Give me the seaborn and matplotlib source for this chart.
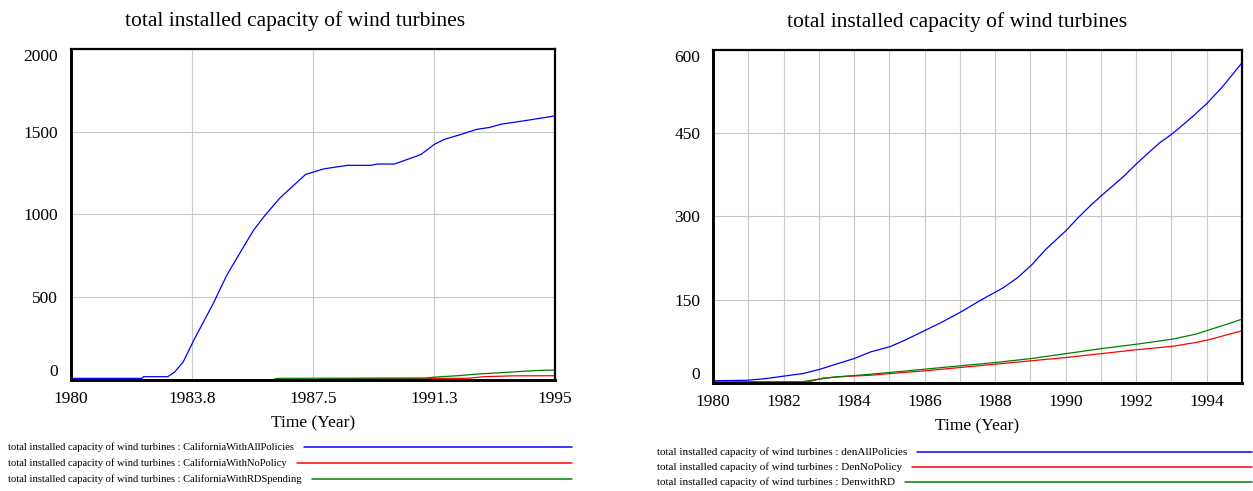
import matplotlib
matplotlib.use("Agg")
import matplotlib.pyplot as plt
import seaborn as sns
from matplotlib.lines import Line2D

# ---------------- data ----------------
chart_title = "total installed capacity of wind turbines"
x_label = "Time (Year)"

# Left chart (California)
cal_all_years = [1980, 1982.2, 1982.25, 1983.0, 1983.22, 1983.48, 1983.82, 1984.41, 1984.83,
                 1985.30, 1985.66, 1986.02, 1986.49, 1986.80, 1987.27, 1987.84, 1988.57,
                 1989.29, 1989.50, 1990.02, 1990.43, 1990.85, 1991.26, 1991.57, 1992.09,
                 1992.56, 1992.97, 1993.34, 1994.17, 1995]
cal_all_vals = [10, 10, 20, 20, 50, 110, 246, 463, 634,
                789, 906, 997, 1103, 1158, 1242, 1276, 1297,
                1297, 1305, 1305, 1333, 1363, 1424, 1454, 1484,
                1514, 1526, 1546, 1570, 1596]

cal_nopol_years = [1980, 1987.6, 1987.8, 1992.3, 1992.8, 1993.7, 1995]
cal_nopol_vals = [0, 0, 8, 10, 20, 25, 26]

cal_rd_years = [1980, 1986.2, 1986.4, 1991.0, 1991.3, 1992.0, 1992.6, 1993.3, 1993.8, 1994.5, 1995]
cal_rd_vals = [0, 0, 10, 12, 18, 26, 36, 44, 50, 58, 60]

left_series_names = ["total installed capacity of wind turbines : CaliforniaWithAllPolicies",
                     "total installed capacity of wind turbines : CaliforniaWithNoPolicy",
                     "total installed capacity of wind turbines : CaliforniaWithRDSpending"]
left_xticks = [1980, 1983.75, 1987.5, 1991.25, 1995]
left_xticklabels = ["1980", "1983.8", "1987.5", "1991.3", "1995"]
left_yticks = [0, 500, 1000, 1500, 2000]

# Right chart (Denmark)
den_all_years = [1980, 1981, 1981.5, 1982.08, 1982.55, 1983.02, 1983.49, 1984.0, 1984.47,
                 1985.02, 1985.47, 1986.02, 1986.47, 1987.0, 1987.53, 1988.24, 1988.64,
                 1989.04, 1989.44, 1990.0, 1990.34, 1990.74, 1991.04, 1991.64, 1992.04,
                 1992.65, 1993.0, 1993.25, 1993.65, 1994.01, 1994.45, 1995]
den_all_vals = [4, 5, 8, 13, 17, 24.5, 34, 44, 56,
                65.5, 78, 95, 109, 127, 147, 172, 190,
                213, 241, 274, 297, 322, 339, 372, 397,
                432, 448, 461, 483, 504, 534, 577]

den_nopol_years = [1980, 1982.7, 1983.13, 1983.8, 1984.47, 1985.02, 1986.02, 1987.02, 1988.02,
                   1989.02, 1990.02, 1991.02, 1992.02, 1993.02, 1993.69, 1994.13, 1994.58, 1995]
den_nopol_vals = [2, 2, 9, 12, 14, 17, 22, 28, 34, 40, 46, 53, 60, 66, 73, 79, 87, 94]

den_rd_years = [1980, 1982.5, 1982.8, 1983.47, 1984.13, 1985.02, 1986.02, 1987.02, 1988.02,
                1989.02, 1990.02, 1991.02, 1992.02, 1993.02, 1993.69, 1994.13, 1994.58, 1995]
den_rd_vals = [2, 2, 5, 11, 14, 19, 25, 31, 37, 44, 53, 62, 70, 79, 88, 97, 106, 115]

right_series_names = ["total installed capacity of wind turbines : denAllPolicies",
                      "total installed capacity of wind turbines : DenNoPolicy",
                      "total installed capacity of wind turbines : DenwithRD"]
right_xticks = [1980, 1982, 1984, 1986, 1988, 1990, 1992, 1994]
right_xticklabels = [str(v) for v in right_xticks]
right_minor_xticks = [1981, 1983, 1985, 1987, 1989, 1991, 1993, 1995]
right_yticks = [0, 150, 300, 450, 600]

series_colors = ["#0000ff", "#ff0000", "#008000"]

# ---------------- figure ----------------
sns.set_theme(style="white")
plt.rcParams["font.family"] = ["Liberation Serif", "DejaVu Serif"]

W, H = 1253, 491
fig = plt.figure(figsize=(W / 100, H / 100), dpi=100)


def px_axes(l, t, r, b):
    return fig.add_axes([l / W, 1 - b / H, (r - l) / W, (b - t) / H])


axL = px_axes(71, 49, 555, 380)
axR = px_axes(713, 50, 1242, 383)

left_data = [(cal_all_years, cal_all_vals), (cal_nopol_years, cal_nopol_vals), (cal_rd_years, cal_rd_vals)]
right_data = [(den_all_years, den_all_vals), (den_nopol_years, den_nopol_vals), (den_rd_years, den_rd_vals)]

for ax, data in ((axL, left_data), (axR, right_data)):
    for (xs, ys), c in zip(data, series_colors):
        sns.lineplot(x=xs, y=ys, ax=ax, color=c, linewidth=0.9, estimator=None,
                     sort=False, legend=False)


def style(ax, xticks, xticklabels, yticks, minor=None):
    ax.set_xlim(1980, 1995)
    ax.set_ylim(yticks[0], yticks[-1])
    ax.set_xticks(xticks, labels=xticklabels)
    if minor:
        ax.set_xticks(minor, minor=True)
    ax.set_yticks(yticks, labels=[str(v) for v in yticks])
    ax.grid(True, which="both", axis="both", color="#c8c8c8", linewidth=0.8)
    ax.set_axisbelow(True)
    ax.tick_params(which="both", length=0, labelsize=12.5, colors="black")
    ax.tick_params(axis="y", pad=9.2)
    ax.tick_params(axis="x", pad=7.6)
    labs = ax.get_yticklabels()
    labs[0].set_va("bottom")
    labs[-1].set_va("top")
    for side, sp in ax.spines.items():
        sp.set_color("black")
        sp.set_visible(True)
        sp.set_linewidth(2.1 if side in ("left", "bottom") else 1.6)
    ax.set_xlabel(x_label, fontsize=12.5, labelpad=6.5, color="black")
    ax.set_ylabel("")
    ax.text(0.462, 1 + 28 / 331, chart_title, transform=ax.transAxes,
            ha="center", va="center", fontsize=15.5, color="black")


style(axL, left_xticks, left_xticklabels, left_yticks)
style(axR, right_xticks, right_xticklabels, right_yticks, minor=right_minor_xticks)

# ---------------- Vensim-style legends ----------------
fig.canvas.draw()
renderer = fig.canvas.get_renderer()


def legend_rows(x0, ys, names, xend, size):
    for y, name, c in zip(ys, names, series_colors):
        t = fig.text(x0 / W, 1 - y / H, name, fontsize=size, ha="left", va="center", color="black")
        bb = t.get_window_extent(renderer)
        fig.add_artist(Line2D([(bb.x1 + 10) / W, xend / W], [1 - y / H, 1 - y / H],
                              transform=fig.transFigure, color=c, linewidth=1.1))


legend_rows(8, [447, 463, 479], left_series_names, 572, 7.6)
legend_rows(657, [452, 467, 482], right_series_names, 1252, 8.0)

fig.savefig("out.png", dpi=100)
